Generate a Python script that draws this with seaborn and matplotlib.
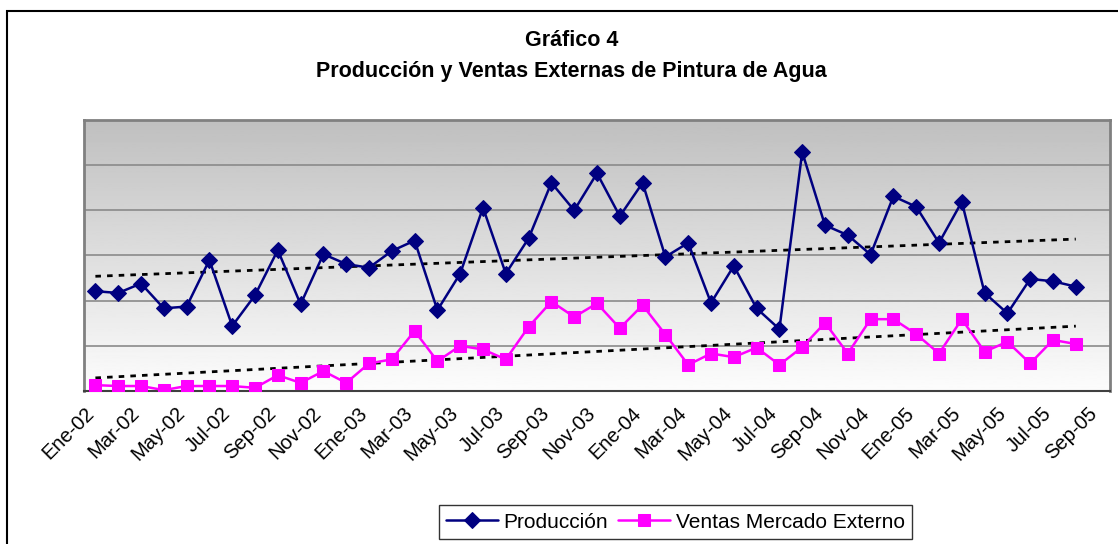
import numpy as np
import pandas as pd
import matplotlib
matplotlib.use('Agg')
import matplotlib.pyplot as plt
import matplotlib.patches as mpatches
import seaborn as sns

# Monthly data Ene-02 .. Ago-05 (arbitrary units)
meses = ['Ene', 'Feb', 'Mar', 'Abr', 'May', 'Jun', 'Jul', 'Ago', 'Sep', 'Oct', 'Nov', 'Dic']
periodos = [f"{m}-{a:02d}" for a in range(2, 6) for m in meses][:44]

produccion = [221, 217, 238, 183, 187, 290, 144, 212, 312, 192, 303, 281,
              273, 310, 333, 179, 260, 406, 260, 338, 461, 400, 482, 387,
              461, 297, 328, 195, 277, 183, 137, 529, 367, 345, 302, 431,
              408, 328, 419, 217, 172, 248, 243, 231]

ventas_externas = [13, 11, 11, 2, 11, 11, 11, 7, 35, 18, 44, 18,
                   61, 70, 133, 66, 100, 92, 70, 142, 198, 164, 194, 139,
                   190, 125, 58, 83, 75, 96, 58, 97, 151, 83, 159, 159,
                   126, 83, 159, 87, 109, 61, 113, 104]

tick_labels = ['Ene-02', 'Mar-02', 'May-02', 'Jul-02', 'Sep-02', 'Nov-02',
               'Ene-03', 'Mar-03', 'May-03', 'Jul-03', 'Sep-03', 'Nov-03',
               'Ene-04', 'Mar-04', 'May-04', 'Jul-04', 'Sep-04', 'Nov-04',
               'Ene-05', 'Mar-05', 'May-05', 'Jul-05', 'Sep-05']

AZUL = '#000080'
ROSA = '#FF00FF'


def trend(y):
    # linear trendline, like the Excel one
    x = np.arange(len(y))
    b, a = np.polyfit(x, y, 1)
    return a + b * x


def main():
    sns.set_style('white')
    plt.rcParams['font.family'] = ['Liberation Sans', 'DejaVu Sans']
    plt.rcParams['text.color'] = 'black'
    plt.rcParams['xtick.color'] = 'black'

    df = pd.DataFrame({'periodo': periodos,
                       'x': np.arange(len(periodos)),
                       'Producción': produccion,
                       'Ventas Mercado Externo': ventas_externas})

    fig = plt.figure(figsize=(11.18, 5.44), dpi=100)
    ax = fig.add_axes([84 / 1118, 1 - 391 / 544, (1110 - 84) / 1118, (391 - 120) / 544])

    # grey gradient background of the plot area (dark on top, white at the bottom)
    grad = np.linspace(0.75, 0.99, 256).reshape(-1, 1)
    ax.imshow(grad, cmap='gray', vmin=0, vmax=1, aspect='auto', origin='upper',
              extent=(0, 1, 0, 1), transform=ax.transAxes, zorder=0)

    for g in [100, 200, 300, 400, 500]:
        ax.axhline(g, color='#8a8a8a', lw=1.2, zorder=1)

    sns.lineplot(data=df, x='x', y='Producción', ax=ax, color=AZUL, lw=1.8,
                 marker='D', markersize=8, markeredgecolor=AZUL,
                 label='Producción', zorder=4)
    sns.lineplot(data=df, x='x', y='Ventas Mercado Externo', ax=ax, color=ROSA, lw=1.8,
                 marker='s', markersize=8.5, markeredgecolor=ROSA,
                 label='Ventas Mercado Externo', zorder=4)

    ax.plot(df['x'], trend(df['Producción']), color='black', lw=2,
            ls=(0, (2, 2.2)), zorder=3)
    ax.plot(df['x'], trend(df['Ventas Mercado Externo']), color='black', lw=2,
            ls=(0, (2, 2.2)), zorder=3)

    ax.set_xlim(-0.5, 44.5)
    ax.set_ylim(0, 600)
    ax.set_yticks([])
    ax.set_xlabel('')
    ax.set_ylabel('')
    ax.set_xticks(np.arange(len(tick_labels)) * 2 - 0.5)
    ax.set_xticklabels(tick_labels, rotation=45, ha='right', va='top',
                       rotation_mode='anchor', fontsize=14.5, color='black')
    ax.tick_params(axis='x', direction='out', length=5, width=1, color='black', pad=4)

    for side in ['top', 'left', 'right']:
        ax.spines[side].set_color('#808080')
        ax.spines[side].set_linewidth(2)
    ax.spines['bottom'].set_color('#404040')
    ax.spines['bottom'].set_linewidth(1.5)

    handles, labels = ax.get_legend_handles_labels()
    ax.get_legend().remove()
    fig.legend(handles, labels, loc='center', bbox_to_anchor=(0.604, 0.040), ncol=2,
               frameon=True, fancybox=False, edgecolor='black', fontsize=15,
               handlelength=2.5, handletextpad=0.25, columnspacing=0.5,
               borderpad=0.35, borderaxespad=0).get_frame().set_linewidth(1)

    fig.text(0.511, 0.926, 'Gráfico 4', ha='center', va='center',
             fontsize=15.5, fontweight='bold')
    fig.text(0.511, 0.869, 'Producción y Ventas Externas de Pintura de Agua',
             ha='center', va='center', fontsize=15.5, fontweight='bold')

    # outer chart frame (right and bottom fall outside the picture)
    fig.patches.append(mpatches.Rectangle((7 / 1118, -0.05), 1.2, 1 - 11 / 544 + 0.05,
                                          transform=fig.transFigure, fill=False,
                                          edgecolor='black', lw=1.5))

    fig.savefig('out.png', dpi=100)
    plt.close(fig)


if __name__ == '__main__':
    main()
